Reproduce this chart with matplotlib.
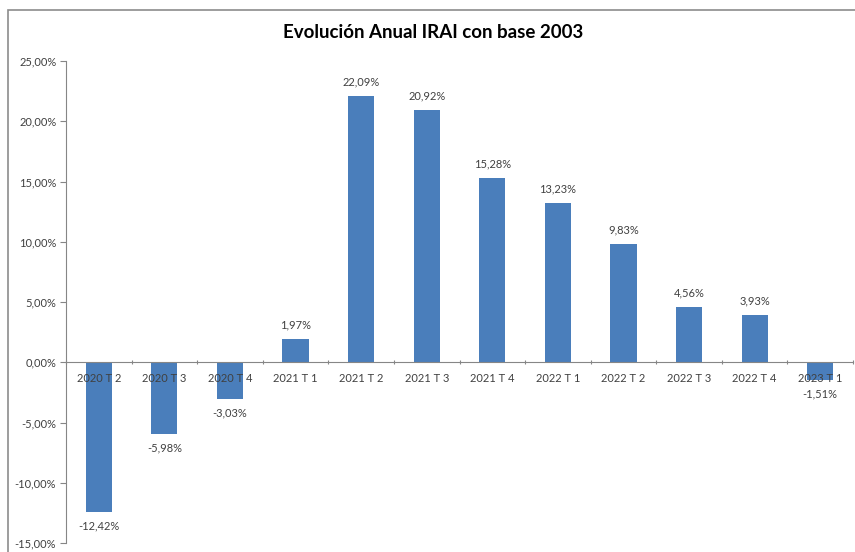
import numpy as np
import matplotlib.pyplot as plt
from matplotlib.patches import Rectangle

plt.rcParams['font.family'] = ['Lato', 'DejaVu Sans']

categories = ['2020 T 2', '2020 T 3', '2020 T 4', '2021 T 1', '2021 T 2', '2021 T 3',
              '2021 T 4', '2022 T 1', '2022 T 2', '2022 T 3', '2022 T 4', '2023 T 1']
values = [-12.42, -5.98, -3.03, 1.97, 22.09, 20.92, 15.28, 13.23, 9.83, 4.56, 3.93, -1.51]
yticks = [-15, -10, -5, 0, 5, 10, 15, 20, 25]


def fmt(v):
    return ('%.2f%%' % v).replace('.', ',')


fig = plt.figure(figsize=(8.55, 5.52), dpi=100)
# outer chart border
fig.patches.append(Rectangle((8 / 855, -0.1), 1.1, 1 - 10 / 552 + 0.1, transform=fig.transFigure,
                             fill=False, edgecolor='#8c8c8c', linewidth=1.2))
ax = fig.add_axes([66 / 855, 9 / 552, 787 / 855, (552 - 61 - 9) / 552])

x = np.arange(len(categories))
bars = ax.bar(x, values, width=0.4, color='#4A7EBB', zorder=2)

ax.set_xlim(-0.5, len(categories) - 0.5)
ax.set_ylim(-15, 25)
ax.set_yticks(yticks)
ax.set_yticklabels([fmt(v) for v in yticks], fontsize=8, color='#404040')

for s in ['top', 'right']:
    ax.spines[s].set_visible(False)
ax.spines['left'].set_color('#868686')
ax.spines['bottom'].set_position(('data', 0))
ax.spines['bottom'].set_color('#868686')
ax.spines['bottom'].set_zorder(3)
ax.tick_params(axis='y', color='#868686', length=4, pad=3)
ax.set_xticks(np.arange(len(categories) + 1) - 0.5)
ax.set_xticklabels([])
ax.tick_params(axis='x', color='#868686', length=3, direction='inout')

for i, c in enumerate(categories):
    ax.annotate(c, (i, 0), xytext=(0, -12), textcoords='offset points',
                ha='center', va='center', fontsize=8, color='#404040', zorder=4)

for i, v in enumerate(values):
    off = 10 if v > 0 else -10
    ax.annotate(fmt(v), (i, v), xytext=(0, off), textcoords='offset points',
                ha='center', va='center', fontsize=8, color='#404040')

fig.text(433 / 855, 1 - 33 / 552, 'Evolución Anual IRAI con base 2003',
         ha='center', va='center', fontsize=13.5, fontweight='bold', color='black')

fig.savefig('out.png', dpi=100)
